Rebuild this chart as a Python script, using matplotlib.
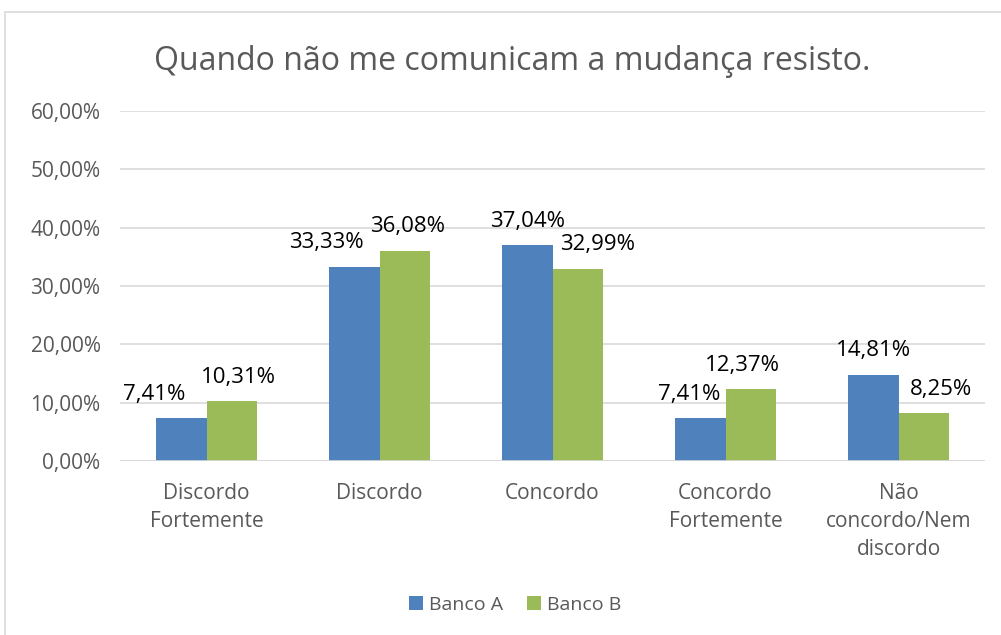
import matplotlib.pyplot as plt
import matplotlib.patches as patches
import numpy as np

categorias = ["Discordo\nFortemente", "Discordo", "Concordo", "Concordo\nFortemente", "Não\nconcordo/Nem\ndiscordo"]
banco_a = [7.41, 33.33, 37.04, 7.41, 14.81]
banco_b = [10.31, 36.08, 32.99, 12.37, 8.25]
rotulos_a = ["7,41%", "33,33%", "37,04%", "7,41%", "14,81%"]
rotulos_b = ["10,31%", "36,08%", "32,99%", "12,37%", "8,25%"]
ticks_y = [0, 10, 20, 30, 40, 50, 60]

# deslocamento horizontal dos rotulos (em pixels) para nao sobrepor
dx_a = [-27, -28, 0, -11, 0]
dx_b = [7, 3, 20, -8, 17]

azul = "#4F81BD"
verde = "#9BBB59"
cinza = "#595959"

plt.rcParams['font.family'] = ['Open Sans', 'DejaVu Sans']

fig = plt.figure(figsize=(10.01, 6.35), dpi=100)
W, H = 1001, 635
fig.patches.append(patches.Rectangle((5 / W, -0.01), 1.01, 1 - 12 / H + 0.01, transform=fig.transFigure,
                                     fill=False, edgecolor="#D9D9D9", linewidth=1.2))

ax = fig.add_axes([120 / W, 1 - 461 / H, 865 / W, 350 / H])
x = np.arange(len(categorias))
w = 0.29
ax.bar(x - w / 2, banco_a, w, color=azul, label="Banco A", zorder=3)
ax.bar(x + w / 2, banco_b, w, color=verde, label="Banco B", zorder=3)

ax.set_xlim(-0.5, len(categorias) - 0.5)
ax.set_ylim(0, 60)
ax.set_yticks(ticks_y)
ax.set_yticklabels(["%d,00%%" % t for t in ticks_y])
ax.set_xticks(x)
ax.set_xticklabels(categorias, linespacing=1.42)
ax.tick_params(axis='both', length=0, labelsize=15, labelcolor=cinza)
ax.tick_params(axis='y', pad=14)
ax.tick_params(axis='x', pad=16)
ax.grid(axis='y', color="#D9D9D9", linewidth=1.2, zorder=0)
for s in ax.spines.values():
    s.set_visible(False)
ax.axhline(0, color="#D9D9D9", linewidth=1.2, zorder=4)

for i in range(len(categorias)):
    ax.annotate(rotulos_a[i], (x[i] - w / 2, banco_a[i]), xytext=(dx_a[i] * 0.72, 17),
                textcoords='offset points', ha='center', va='center', fontsize=16, color='black')
    ax.annotate(rotulos_b[i], (x[i] + w / 2, banco_b[i]), xytext=(dx_b[i] * 0.72, 17),
                textcoords='offset points', ha='center', va='center', fontsize=16, color='black')

fig.text(512 / W, 1 - 62 / H, "Quando não me comunicam a mudança resisto.", ha='center', va='center',
         fontsize=23, color=cinza)

fig.legend(loc='center', bbox_to_anchor=(515 / W, 1 - 605 / H), ncol=2, frameon=False,
           fontsize=14, labelcolor=cinza, handlelength=0.75, handleheight=0.75, handletextpad=0.3,
           columnspacing=1.2)

fig.savefig("out.png", dpi=100)
